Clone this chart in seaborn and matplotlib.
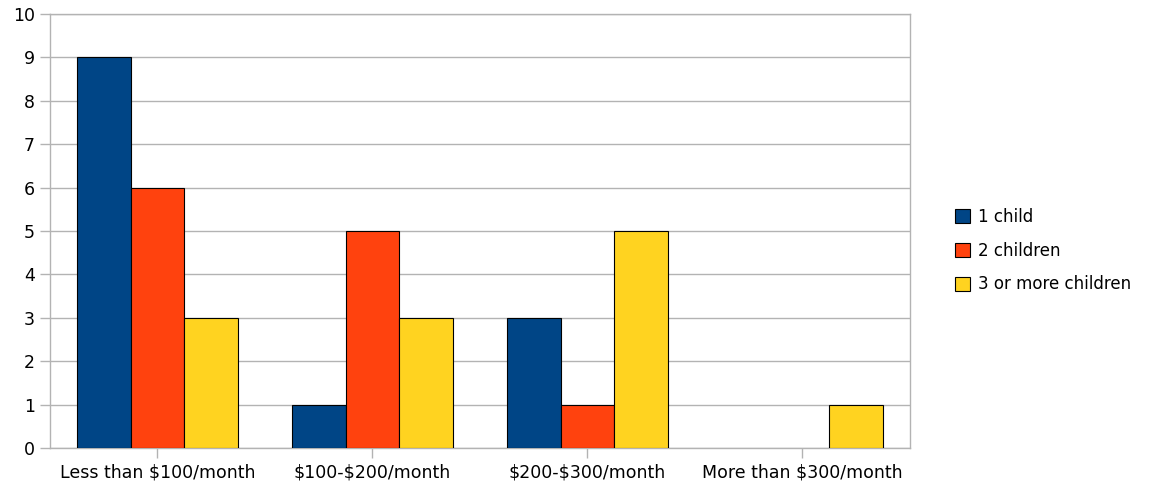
import pandas as pd
import seaborn as sns
import matplotlib.pyplot as plt

# Chart data
categories = ["Less than $100/month", "$100-$200/month", "$200-$300/month", "More than $300/month"]
series_names = ["1 child", "2 children", "3 or more children"]
one_child = [9, 1, 3, 0]
two_children = [6, 5, 1, 0]
three_plus = [3, 3, 5, 1]
colors = ["#004586", "#ff420e", "#ffd320"]

rows = []
for name, vals in zip(series_names, [one_child, two_children, three_plus]):
    for cat, v in zip(categories, vals):
        rows.append({"category": cat, "series": name, "count": v})
df = pd.DataFrame(rows)
# zero-height bars are not drawn in the original
plot_df = df[df["count"] > 0]

sns.set_style("white")
plt.rcParams["font.family"] = ["DejaVu Sans"]
plt.rcParams["text.parse_math"] = False

fig = plt.figure(figsize=(11.59, 4.93), dpi=100)
ax = fig.add_axes([0.0431, 0.0913, 0.742, 0.8803])

sns.barplot(data=plot_df, x="category", y="count", hue="series",
            order=categories, hue_order=series_names, palette=colors,
            width=0.75, edgecolor="black", linewidth=0.8, saturation=1,
            ax=ax, zorder=3)

ax.set_ylim(0, 10)
ax.set_xlim(-0.5, 3.5)
ax.set_yticks(range(0, 11))
ax.yaxis.grid(True, color="#b3b3b3", linewidth=1, zorder=0)
ax.set_axisbelow(True)
for s in ax.spines.values():
    s.set_color("#b3b3b3")
    s.set_linewidth(1)
ax.tick_params(axis="both", bottom=True, left=True, length=7, width=1,
               color="#b3b3b3", labelcolor="black", labelsize=12.5, pad=4)
ax.set_xlabel("")
ax.set_ylabel("")

leg = ax.legend(loc="center left", bbox_to_anchor=(1.035, 0.455), frameon=False,
                fontsize=12, handlelength=0.9, handleheight=0.9,
                handletextpad=0.5, labelspacing=0.95)
for t in leg.get_texts():
    t.set_color("black")

fig.savefig("out.png", dpi=100)
